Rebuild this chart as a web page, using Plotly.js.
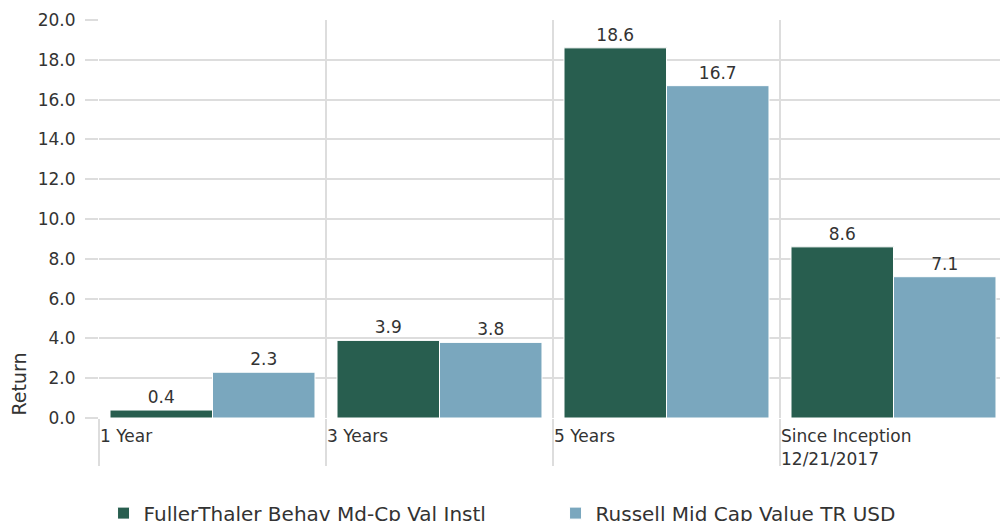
<!DOCTYPE html>
<html>
<head>
<meta charset="utf-8">
<script src="https://cdn.plot.ly/plotly-3.0.1.min.js"></script>
<style>
html, body { margin: 0; padding: 0; overflow: hidden; background: #fff; width: 1000px; height: 521px; }
#chart { width: 1010px; height: 545px; }
</style>
</head>
<body>
<div id="chart"></div>
<script>
const categories = ["1 Year", "3 Years", "5 Years", "Since Inception<br>12/21/2017"];
const seriesNames = ["FullerThaler Behav Md-Cp Val Instl", "Russell Mid Cap Value TR USD"];
const fundValues = [0.4, 3.9, 18.6, 8.6];
const benchValues = [2.3, 3.8, 16.7, 7.1];
const yTicks = [0, 2, 4, 6, 8, 10, 12, 14, 16, 18, 20];
const yTitle = "Return";
const colors = ["#285e4f", "#7aa7be"];

const xPos = categories.map((c, i) => i);
const boundaries = categories.map((c, i) => i - 0.5);
const font = "DejaVu Sans, sans-serif";

function mk(name, vals, color) {
  return {
    type: "bar", name: name, x: xPos, y: vals,
    marker: { color: color, line: { color: "#ffffff", width: 1 } },
    text: vals.map(v => v.toFixed(1)), textposition: "outside",
    textfont: { family: font, size: 17, color: "#333333" },
    cliponaxis: false, hoverinfo: "skip"
  };
}

const data = [mk(seriesNames[0], fundValues, colors[0]), mk(seriesNames[1], benchValues, colors[1])];

const layout = {
  width: 1010, height: 545,
  margin: { l: 99, r: 3, t: 20, b: 127, autoexpand: false },
  paper_bgcolor: "#ffffff", plot_bgcolor: "#ffffff",
  font: { family: font, size: 17, color: "#333333" },
  barmode: "group", bargap: 0.097, bargroupgap: 0,
  showlegend: true,
  legend: {
    orientation: "h", x: 0.005, xanchor: "left", y: -0.19, yanchor: "top",
    font: { family: font, size: 20, color: "#333333" },
    entrywidth: 407, entrywidthmode: "pixels",
    traceorder: "normal"
  },
  xaxis: {
    type: "linear", range: [-0.5, categories.length - 0.5],
    tickvals: boundaries, ticktext: categories,
    ticklabelposition: "outside right",
    ticks: "outside", ticklen: 47, tickwidth: 2, tickcolor: "#dddddd",
    ticklabelstandoff: 3,
    showgrid: true, gridcolor: "#dddddd", gridwidth: 2,
    zeroline: false, showline: false,
    tickfont: { family: font, size: 17, color: "#333333" }
  },
  yaxis: {
    range: [0, 20], tickvals: yTicks, ticktext: yTicks.map(v => v.toFixed(1)),
    ticks: "outside", ticklen: 13, tickwidth: 2, tickcolor: "#dddddd",
    ticklabelstandoff: 6,
    showgrid: true, gridcolor: "#dddddd", gridwidth: 2,
    zeroline: false, showline: false,
    tickfont: { family: font, size: 17, color: "#333333" }
  },
  annotations: [{
    text: yTitle, xref: "paper", yref: "paper", x: 0, y: 0,
    xanchor: "right", yanchor: "bottom", xshift: -68, textangle: -90,
    showarrow: false, font: { family: font, size: 19, color: "#333333" }
  }]
};

Plotly.newPlot("chart", data, layout, { displayModeBar: false, staticPlot: true });
</script>
</body>
</html>
